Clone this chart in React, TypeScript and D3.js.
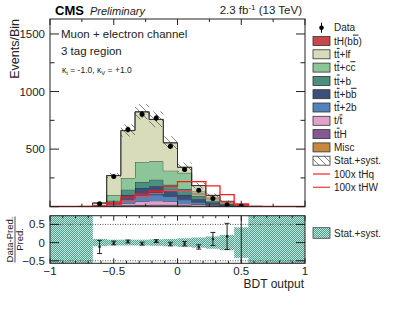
import * as d3 from 'd3';

// 18 bins of width 1/9 between -1 and 1
const edges = d3.range(19).map((i) => -1 + i / 9);

// stacked backgrounds, bottom to top
const misc = [0, 0, 0, 0.5, 1, 4, 5, 5, 5, 4, 3, 2, 1, 0.5, 0, 0, 0, 0];
const ttH = [0, 0, 0, 0.5, 2, 8, 10, 12, 11, 8, 6, 4, 2, 1, 0.2, 0, 0, 0];
const singleTop = [0, 0, 0.2, 2, 6, 18, 31, 35, 30, 14, 10, 6, 3, 1, 0.3, 0, 0, 0];
const tt2b = [0, 0, 0.2, 1.5, 8, 31, 44, 52, 44, 35, 20, 10, 5, 2, 0.5, 0, 0, 0];
const ttbb = [0, 0, 0.2, 2.5, 15, 43, 73, 73, 58, 43, 25, 14, 7, 2.5, 0.5, 0, 0, 0];
const ttb = [0, 0, 0.3, 2, 20, 44, 52, 58, 43, 50, 26, 12, 6, 2, 0.3, 0, 0, 0];
const ttcc = [0, 0, 0.5, 6, 50, 102, 174, 159, 122, 140, 43, 22, 10, 3, 0.5, 0, 0, 0];
const ttlf = [0.2, 0.3, 1, 17, 168, 411, 434, 363, 241, 48, 50, 28, 12, 3, 0.5, 0.2, 0.1, 0.1];
const tHbb = [0, 0, 0, 0, 0.5, 1, 1.5, 1.5, 1.5, 1, 1, 0.5, 0.3, 0.1, 0, 0, 0, 0];

// signal x100
const tHq = [2, 2, 3, 5, 30, 80, 110, 135, 178, 218, 218, 180, 105, 25, 3, 3, 3, 3];
const tHW = [1, 1, 2, 3, 15, 50, 90, 115, 140, 135, 110, 75, 40, 15, 2, 2, 2, 2];

const data = [NaN, NaN, NaN, 25, 263, 670, 803, 771, 524, 322, 142, 72, 17, 3, NaN, NaN, NaN, NaN];

// ratio panel
const ratio = [NaN, NaN, NaN, -0.12, -0.01, 0.03, -0.03, 0.04, -0.04, -0.03, -0.12, 0.1, 0.17, -0.75, NaN, NaN, NaN, NaN];
const ratioErr = [0, 0, 0, 0.18, 0.05, 0.04, 0.04, 0.04, 0.05, 0.06, 0.06, 0.18, 0.36, 1.6, 0, 0, 0, 0];
const band = [5, 5, 5, 0.1, 0.08, 0.08, 0.08, 0.09, 0.1, 0.12, 0.14, 0.17, 0.21, 0.42, 5, 5, 5, 5];

const keys = ['misc', 'ttH', 'singleTop', 'tt2b', 'ttbb', 'ttb', 'ttcc', 'ttlf', 'tHbb'];
const series: Record<string, number[]> = { misc, ttH, singleTop, tt2b, ttbb, ttb, ttcc, ttlf, tHbb };
const colors: Record<string, string> = {
  tHbb: '#c9474c',
  ttlf: '#d8dcbb',
  ttcc: '#8cc597',
  ttb: '#4b8f80',
  ttbb: '#3a5079',
  tt2b: '#5482ba',
  singleTop: '#e0a2c9',
  ttH: '#855a93',
  misc: '#c6873f',
};

const legendRows: { label: string; key?: string; kind: string }[] = [
  { label: 'Data', kind: 'data' },
  { label: 'tH(b~b)', key: 'tHbb', kind: 'box' },
  { label: 't~t+lf', key: 'ttlf', kind: 'box' },
  { label: 't~t+c~c', key: 'ttcc', kind: 'box' },
  { label: 't~t+b', key: 'ttb', kind: 'box' },
  { label: 't~t+b~b', key: 'ttbb', kind: 'box' },
  { label: 't~t+2b', key: 'tt2b', kind: 'box' },
  { label: 't/~t', key: 'singleTop', kind: 'box' },
  { label: 't~tH', key: 'ttH', kind: 'box' },
  { label: 'Misc', key: 'misc', kind: 'box' },
  { label: 'Stat.+syst.', kind: 'hatch' },
  { label: '100x tHq', kind: 'tHq' },
  { label: '100x tHW', kind: 'tHW' },
];

const FONT = '"Liberation Sans", Arial, sans-serif';

// "~t" -> t with overline
function Label({ s }: { s: string }) {
  const parts: JSX.Element[] = [];
  let i = 0;
  while (i < s.length) {
    if (s[i] === '~') {
      parts.push(
        <tspan key={i} style={{ textDecoration: 'overline' }}>
          {s[i + 1]}
        </tspan>,
      );
      i += 2;
    } else {
      let j = i;
      while (j < s.length && s[j] !== '~') j++;
      parts.push(<tspan key={i}>{s.slice(i, j)}</tspan>);
      i = j;
    }
  }
  return <>{parts}</>;
}

export default function App() {
  const x = d3.scaleLinear().domain([-1, 1]).range([50, 305]);
  const y = d3.scaleLinear().domain([0, 1630]).range([206.7, 19]);
  const yr = d3.scaleLinear().domain([-0.57, 0.74]).range([263.3, 215.7]);

  const rows = edges.slice(0, -1).map((_, i) => {
    const r: Record<string, number> = {};
    keys.forEach((k) => (r[k] = series[k][i]));
    return r;
  });
  const stacked = d3.stack<Record<string, number>>().keys(keys)(rows);
  const n = rows.length;

  const area = d3
    .area<[number, number, number]>()
    .x((d) => x(d[0]))
    .y0((d) => y(d[1]))
    .y1((d) => y(d[2]))
    .curve(d3.curveStepAfter);
  const step = d3
    .line<[number, number]>()
    .x((d) => x(d[0]))
    .y((d) => y(d[1]))
    .curve(d3.curveStepAfter);

  const stepPts = (vals: number[]): [number, number][] =>
    edges.map((e, i) => [e, vals[Math.min(i, n - 1)]]);

  const total = rows.map((_, i) => keys.reduce((s, k) => s + series[k][i], 0));

  const xTicksMain = d3.range(-1, 1.001, 0.25);
  const xTicksRatio = d3.range(-10, 11).map((v) => v / 10);
  const yTicksMain = d3.range(0, 1630, 250);

  const legX = 313;
  const legY = (i: number) => 27.7 + i * 13.3;

  return (
    <svg
      width={399}
      height={309}
      style={{ position: 'absolute', left: 0, top: 0, background: '#fff' }}
      fontFamily={FONT}
    >
      <defs>
        <pattern id="hatch" patternUnits="userSpaceOnUse" width={7} height={7}>
          <path d="M0,0 L7,7 M-1,6 L1,8 M6,-1 L8,1" stroke="#333" strokeWidth={0.6} />
        </pattern>
        <pattern id="checker" patternUnits="userSpaceOnUse" width={2} height={2}>
          <rect width={2} height={2} fill="#4aa190" />
          <rect width={1} height={1} fill="#c4e4dc" />
          <rect x={1} y={1} width={1} height={1} fill="#c4e4dc" />
        </pattern>
        <clipPath id="mainClip">
          <rect x={50} y={19} width={255} height={187.7} />
        </clipPath>
        <clipPath id="ratioClip">
          <rect x={50} y={215.7} width={255} height={47.6} />
        </clipPath>
      </defs>

      {/* main panel */}
      <g clipPath="url(#mainClip)">
        {stacked.map((layer) => {
          const pts = edges.map((e, i) => {
            const d = layer[Math.min(i, n - 1)];
            return [e, d[0], d[1]] as [number, number, number];
          });
          return (
            <g key={layer.key}>
              <path d={area(pts) || ''} fill={colors[layer.key]} />
              <path
                d={step(pts.map((p) => [p[0], p[2]] as [number, number])) || ''}
                fill="none"
                stroke="#2a2a2a"
                strokeWidth={0.8}
              />
            </g>
          );
        })}
        {total.map((t, i) =>
          band[i] < 1 ? (
            <rect
              key={i}
              x={x(edges[i])}
              width={x(edges[i + 1]) - x(edges[i])}
              y={y(t * (1 + band[i]))}
              height={y(t * (1 - band[i])) - y(t * (1 + band[i]))}
              fill="url(#hatch)"
            />
          ) : null,
        )}
        <path d={step(stepPts(tHW)) || ''} fill="none" stroke="#ee4a50" strokeWidth={1.1} />
        <path d={step(stepPts(tHq)) || ''} fill="none" stroke="#ff1a1a" strokeWidth={1.3} />
        {data.map((v, i) => {
          if (isNaN(v)) return null;
          const cx = x((edges[i] + edges[i + 1]) / 2);
          const e = Math.sqrt(v);
          return (
            <g key={i}>
              <line x1={cx} x2={cx} y1={y(v + e)} y2={y(Math.max(0, v - e))} stroke="#000" strokeWidth={1} />
              <circle cx={cx} cy={y(v)} r={2.5} fill="#000" />
            </g>
          );
        })}
      </g>
      <rect x={50} y={19} width={255} height={187.7} fill="none" stroke="#222" strokeWidth={1} />
      {xTicksMain.map((t, i) => {
        const len = Math.abs(t * 2 - Math.round(t * 2)) < 1e-6 ? 6 : 3;
        return (
          <g key={i} stroke="#222" strokeWidth={1}>
            <line x1={x(t)} x2={x(t)} y1={206.7} y2={206.7 - len} />
            <line x1={x(t)} x2={x(t)} y1={19} y2={19 + len} />
          </g>
        );
      })}
      {yTicksMain.map((t, i) => {
        const len = t % 500 === 0 ? 9 : 4.5;
        return (
          <g key={i} stroke="#222" strokeWidth={1}>
            <line x1={50} x2={50 + len} y1={y(t)} y2={y(t)} />
            <line x1={305} x2={305 - len} y1={y(t)} y2={y(t)} />
          </g>
        );
      })}
      {[500, 1000, 1500].map((t) => (
        <text key={t} x={45} y={y(t) + 4} textAnchor="end" fontSize={11.5} fill="#222">
          {t}
        </text>
      ))}
      <text
        transform="translate(19,19) rotate(-90)"
        textAnchor="end"
        fontSize={12.5}
        fill="#222"
      >
        Events/Bin
      </text>

      <text x={55} y={15} fontSize={13} fontWeight="bold" fill="#000">
        CMS
      </text>
      <text x={90} y={15} fontSize={11} fontStyle="italic" fill="#222">
        Preliminary
      </text>
      <text x={302} y={14} textAnchor="end" fontSize={11.5} fill="#222">
        2.3 fb
        <tspan dy={-4} fontSize={8}>
          -1
        </tspan>
        <tspan dy={4}> (13 TeV)</tspan>
      </text>

      <text x={61} y={38} fontSize={11.5} fill="#222">
        Muon + electron channel
      </text>
      <text x={61} y={55} fontSize={11.5} fill="#222">
        3 tag region
      </text>
      <text x={62} y={73} fontSize={8.5} fill="#222">
        κ
        <tspan dy={2} fontSize={6}>
          t
        </tspan>
        <tspan dy={-2}> = -1.0, κ</tspan>
        <tspan dy={2} fontSize={6}>
          V
        </tspan>
        <tspan dy={-2}> = +1.0</tspan>
      </text>

      {/* legend */}
      {legendRows.map((r, i) => {
        const cy = legY(i);
        let mark: JSX.Element | null = null;
        if (r.kind === 'data') {
          mark = (
            <g>
              <line x1={legX + 8.5} x2={legX + 8.5} y1={cy - 5} y2={cy + 5} stroke="#000" />
              <circle cx={legX + 8.5} cy={cy} r={2.3} fill="#000" />
            </g>
          );
        } else if (r.kind === 'box') {
          mark = (
            <rect
              x={legX}
              y={cy - 4.5}
              width={17}
              height={9}
              fill={colors[r.key!]}
              stroke="#333"
              strokeWidth={0.8}
            />
          );
        } else if (r.kind === 'hatch') {
          mark = (
            <rect x={legX} y={cy - 4.5} width={17} height={9} fill="url(#hatch)" stroke="#333" strokeWidth={0.8} />
          );
        } else {
          mark = (
            <line
              x1={legX}
              x2={legX + 17}
              y1={cy}
              y2={cy}
              stroke={r.kind === 'tHq' ? '#ff3030' : '#ee4a50'}
              strokeWidth={1.3}
            />
          );
        }
        return (
          <g key={i}>
            {mark}
            <text x={334} y={cy + 3.6} fontSize={10} fill="#222">
              <Label s={r.label} />
            </text>
          </g>
        );
      })}

      {/* ratio panel */}
      <g clipPath="url(#ratioClip)">
        {band.map((b, i) => (
          <rect
            key={i}
            x={x(edges[i])}
            width={x(edges[i + 1]) - x(edges[i]) + 0.3}
            y={yr(b)}
            height={yr(-b) - yr(b)}
            fill="url(#checker)"
          />
        ))}
        {[-0.5, 0.5].map((t) => (
          <line key={t} x1={50} x2={305} y1={yr(t)} y2={yr(t)} stroke="#555" strokeWidth={1} strokeDasharray="1,1.5" />
        ))}
        {ratio.map((v, i) => {
          if (isNaN(v)) return null;
          const cx = x((edges[i] + edges[i + 1]) / 2);
          const e = ratioErr[i];
          return (
            <g key={i} stroke="#222" strokeWidth={1}>
              <line x1={cx} x2={cx} y1={yr(v + e)} y2={yr(v - e)} />
              <line x1={cx - 2.5} x2={cx + 2.5} y1={yr(v + e)} y2={yr(v + e)} />
              <line x1={cx - 2.5} x2={cx + 2.5} y1={yr(v - e)} y2={yr(v - e)} />
              <circle cx={cx} cy={yr(v)} r={1.3} fill="#222" stroke="none" />
            </g>
          );
        })}
      </g>
      <rect x={50} y={215.7} width={255} height={47.6} fill="none" stroke="#222" strokeWidth={1} />
      {xTicksRatio.map((t, i) => {
        const len = Math.abs(t * 2 - Math.round(t * 2)) < 1e-6 ? 5 : 2.5;
        return (
          <g key={i} stroke="#222" strokeWidth={1}>
            <line x1={x(t)} x2={x(t)} y1={263.3} y2={263.3 - len} />
            <line x1={x(t)} x2={x(t)} y1={215.7} y2={215.7 + len} />
          </g>
        );
      })}
      {[-0.5, 0, 0.5].map((t) => (
        <g key={t} stroke="#222" strokeWidth={1}>
          <line x1={50} x2={59} y1={yr(t)} y2={yr(t)} />
          <line x1={305} x2={296} y1={yr(t)} y2={yr(t)} />
        </g>
      ))}
      {[0.5, 0, -0.5].map((t) => (
        <text key={t} x={45} y={yr(t) + 4} textAnchor="end" fontSize={11.5} fill="#222">
          {t === 0 ? '0' : t > 0 ? '0.5' : '\u22120.5'}
        </text>
      ))}
      {[-1, -0.5, 0, 0.5, 1].map((t) => (
        <text key={t} x={x(t)} y={275} textAnchor="middle" fontSize={11.5} fill="#222">
          {t < 0 ? '\u2212' + String(-t) : String(t)}
        </text>
      ))}
      <text x={304} y={288} textAnchor="end" fontSize={12} fill="#222">
        BDT output
      </text>
      <g transform="translate(0,239.5) rotate(-90)" fill="#222" fontSize={9.5}>
        <text x={0} y={13} textAnchor="middle">
          Data-Pred.
        </text>
        <line x1={-23} x2={23} y1={15} y2={15} stroke="#222" strokeWidth={0.8} />
        <text x={0} y={23} textAnchor="middle">
          Pred.
        </text>
      </g>

      {/* ratio legend */}
      <rect x={313} y={227.7} width={17} height={10.6} fill="url(#checker)" stroke="#444" strokeWidth={0.8} />
      <text x={334} y={236.5} fontSize={10} fill="#222">
        Stat.+syst.
      </text>
    </svg>
  );
}
